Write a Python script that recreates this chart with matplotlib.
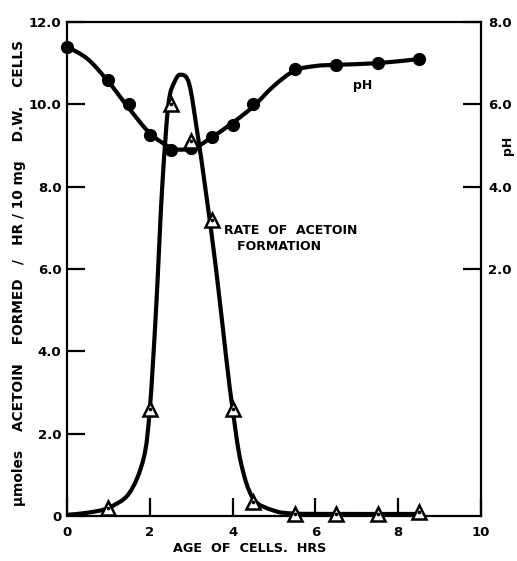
import numpy as np
import matplotlib
matplotlib.use("Agg")
import matplotlib.pyplot as plt
from matplotlib.path import Path
from matplotlib.patches import PathPatch

# ---- data (left-axis units) ----
ph_hours = [0, 1, 1.5, 2, 2.5, 3, 3.5, 4, 4.5, 5.5, 6.5, 7.5, 8.5]
ph_values = [11.4, 10.6, 10.0, 9.25, 8.9, 8.95, 9.2, 9.5, 10.0, 10.85, 10.95, 11.0, 11.1]

rate_hours = [1, 2, 2.5, 3, 3.5, 4, 4.5, 5.5, 6.5, 7.5, 8.5]
rate_values = [0.2, 2.6, 10.0, 9.1, 7.2, 2.6, 0.35, 0.05, 0.05, 0.05, 0.1]

# smooth drawn curves (knots)
ph_curve_x = [0, 0.5, 1, 1.5, 2, 2.5, 2.8, 3.1, 3.5, 4, 4.5, 5, 5.5, 6, 6.5, 7.5, 8.5]
ph_curve_y = [11.4, 11.1, 10.55, 9.9, 9.3, 8.95, 8.9, 8.95, 9.2, 9.55, 9.95, 10.45, 10.82, 10.93, 10.96, 11.0, 11.1]

rate_curve_x = [0, 0.5, 1, 1.5, 1.85, 2.0, 2.15, 2.3, 2.45, 2.6, 2.75, 2.95, 3.15, 3.35, 3.6, 3.85, 4.0, 4.2, 4.5, 5.0, 5.5, 6.5, 8.5]
rate_curve_y = [0.03, 0.08, 0.2, 0.55, 1.4, 2.6, 5.0, 8.0, 10.0, 10.55, 10.72, 10.5, 9.3, 7.9, 6.0, 3.8, 2.6, 1.3, 0.42, 0.13, 0.06, 0.05, 0.05]

x_ticks = [0, 2, 4, 6, 8, 10]
y_ticks = [0, 2, 4, 6, 8, 10, 12]
y_ticklabels = ["0", "2.0", "4.0", "6.0", "8.0", "10.0", "12.0"]
ph_ticks = [2, 4, 6, 8]
ph_ticklabels = ["2.0", "4.0", "6.0", "8.0"]


def smooth_path(xs, ys):
    p = np.column_stack([xs, ys]).astype(float)
    n = len(p)
    verts = [p[0]]
    codes = [Path.MOVETO]
    for i in range(n - 1):
        p0 = p[i - 1] if i > 0 else p[i]
        p1, p2 = p[i], p[i + 1]
        p3 = p[i + 2] if i + 2 < n else p[i + 1]
        c1 = p1 + (p2 - p0) / 6.0
        c2 = p2 - (p3 - p1) / 6.0
        verts += [c1, c2, p2]
        codes += [Path.CURVE4] * 3
    return Path(verts, codes)


plt.rcParams['font.family'] = ['DejaVu Sans']
fig = plt.figure(figsize=(5.17, 5.61), dpi=100)
ax = fig.add_axes([0.1296, 0.0802, 0.8008, 0.8806])
ax.set_xlim(0, 10)
ax.set_ylim(0, 12)

lw = 3.0
ax.add_patch(PathPatch(smooth_path(ph_curve_x, ph_curve_y), fill=False, lw=lw, color='black',
                       capstyle='round', joinstyle='round', zorder=3))
ax.add_patch(PathPatch(smooth_path(rate_curve_x, rate_curve_y), fill=False, lw=lw, color='black',
                       capstyle='round', joinstyle='round', zorder=3))

ax.plot(ph_hours, ph_values, 'o', ms=8.5, color='black', zorder=4, clip_on=False)
ax.plot(rate_hours, rate_values, '^', ms=9.5, mfc='white', mec='black', mew=1.8, zorder=5, clip_on=False)
ax.plot(rate_hours, rate_values, 'o', ms=1.6, color='black', zorder=6, clip_on=False)

for s in ['left', 'right', 'top', 'bottom']:
    ax.spines[s].set_linewidth(1.6)
ax.spines['bottom'].set_bounds(0.3, 10)

ax.set_xticks(x_ticks)
ax.set_xticklabels([str(v) for v in x_ticks])
ax.set_yticks(y_ticks)
ax.set_yticklabels(y_ticklabels)
ax.tick_params(axis='both', direction='in', length=13, width=1.6, labelsize=9.5, pad=4)
ax.tick_params(axis='x', pad=7)
for lab in ax.get_xticklabels() + ax.get_yticklabels():
    lab.set_fontweight('bold')

ax2 = ax.twinx()
ax2.set_ylim(-4, 8)
ax2.set_yticks(ph_ticks)
ax2.set_yticklabels(ph_ticklabels)
ax2.tick_params(axis='y', direction='in', length=13, width=1.6, labelsize=9.5, pad=5)
for lab in ax2.get_yticklabels():
    lab.set_fontweight('bold')
for s in ax2.spines.values():
    s.set_visible(False)

ax.set_xlabel("AGE  OF  CELLS.  HRS", fontsize=9.2, fontweight='bold')
ax.xaxis.set_label_coords(0.44, -0.052)
ax.set_ylabel("\u03bcmoles    ACETOIN    FORMED   /   HR / 10 mg    D.W.    CELLS",
              fontsize=9.9, fontweight='bold')
ax.yaxis.set_label_coords(-0.1, 0.492)

ax.text(1.063, 0.75, "pH", transform=ax.transAxes, fontsize=9, fontweight='bold',
        rotation=90, ha='center', va='center')

ax.text(7.15, 10.45, "pH", fontsize=9, fontweight='bold', ha='center', va='center')
ax.text(3.8, 6.75, "RATE  OF  ACETOIN\n   FORMATION", fontsize=9, fontweight='bold',
        ha='left', va='center', linespacing=1.3)

fig.savefig("out.png", dpi=100)
